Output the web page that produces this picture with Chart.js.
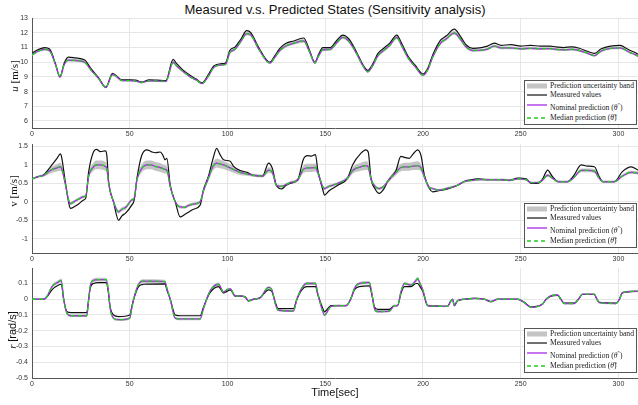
<!DOCTYPE html>
<html>
<head>
<meta charset="utf-8">
<script src="https://cdn.jsdelivr.net/npm/chart.js@4.4.0/dist/chart.umd.min.js"></script>
<style>
  body { margin: 0; background: #fff; }
  #wrap { position: relative; width: 638px; height: 405px; overflow: hidden; font-family: 'Liberation Sans', Arial, sans-serif; }
  canvas { position: absolute; left: 0; }
  .title { position: absolute; left: 335px; top: 3px; transform: translateX(-50%); font-size: 13px; line-height: 13px; color: #111; white-space: nowrap; }
  .xlabel { position: absolute; left: 335px; top: 387px; transform: translateX(-50%); font-size: 11px; line-height: 11px; color: #111; white-space: nowrap; }
  .ylabel { position: absolute; transform: translate(-50%, -50%) rotate(-90deg); font-size: 11px; white-space: nowrap; color: #111; font-family: 'Liberation Serif', 'Times New Roman', serif; }
  .legend { position: absolute; left: 524px; width: 113px; height: 45px; border: 1px solid #555; background: #fff; box-sizing: border-box; font-family: 'Liberation Serif', 'Times New Roman', serif; font-size: 7.6px; color: #222; }
  .legend .row { position: absolute; left: 1px; height: 8px; white-space: nowrap; }
  .legend svg { position: absolute; left: 0; top: 0; }
  .legend span { position: absolute; left: 24px; top: 0; line-height: 8px; }
</style>
</head>
<body>
<div id="wrap">
  <div class="title">Measured v.s. Predicted States (Sensitivity analysis)</div>
  <canvas id="cu" width="638" height="130" style="top:10px"></canvas>
  <canvas id="cv" width="638" height="129" style="top:136px"></canvas>
  <canvas id="cr" width="638" height="130" style="top:260px"></canvas>
  <div class="ylabel" style="left:14px; top:76px"><i>u</i> [m/s]</div>
  <div class="ylabel" style="left:13px; top:191px">v [m/s]</div>
  <div class="ylabel" style="left:12px; top:330px"><i>r</i> <span style="font-family:'Liberation Sans', Arial, sans-serif">[rad/s]</span></div>
  <div class="xlabel">Time[sec]</div>
</div>
<script>
// x ticks shared by all three panels
const xTicks = [0, 50, 100, 150, 200, 250, 300];

// surge speed u [m/s]
const uTime = [0, 3, 6.5, 9, 12, 14.3, 16.5, 18.6, 22, 27,
  30, 34, 37.8, 41.2, 43, 46, 50, 53, 56, 60,
  64, 68.5, 72.2, 74, 77, 81, 84, 87, 90, 93,
  97, 99, 101.2, 104, 107, 109.8, 112, 116, 121.7, 124,
  126.8, 130, 134, 137, 139, 142, 144.7, 146.5, 148.8, 152.5,
  156, 159, 162, 166, 169, 171.8, 174, 177, 180.4, 183,
  186.6, 189, 192.4, 196, 200, 202.5, 205, 209, 212, 216,
  219, 222, 225.5, 230, 233, 236.5, 240, 245, 250, 255,
  260, 265, 268, 272, 276, 280, 284, 287.7, 291, 296,
  301, 304, 306, 308, 310];
const uMeas = [10.62, 10.85, 11.0, 10.9, 9.9, 9.0, 9.95, 10.35, 10.3, 10.15,
  9.6, 8.95, 8.3, 9.25, 9.1, 8.8, 8.8, 8.78, 8.65, 8.8,
  8.78, 8.75, 10.2, 9.9, 9.5, 9.1, 8.85, 8.6, 9.1, 9.75,
  9.9, 9.95, 10.8, 11.05, 11.6, 12.15, 12.0, 11.0, 10.0, 10.4,
  10.95, 11.3, 11.45, 11.6, 11.65, 10.8, 10.0, 10.5, 11.0, 11.0,
  11.5, 11.85, 11.6, 10.7, 9.9, 9.45, 9.8, 10.6, 11.0, 11.3,
  11.85, 11.3, 10.4, 9.8, 9.2, 9.6, 10.5, 11.5, 11.8, 12.25,
  11.8, 11.2, 10.95, 11.0, 11.1, 11.3, 11.15, 11.2, 11.1, 11.15,
  11.1, 11.1, 11.05, 11.0, 11.05, 10.95, 10.75, 10.6, 10.9, 11.1,
  11.15, 10.95, 10.8, 10.7, 10.55];
const uNom = [10.5, 10.75, 10.88, 10.78, 9.85, 9.0, 9.85, 10.15, 10.12, 10.0,
  9.5, 8.9, 8.28, 9.15, 9.05, 8.75, 8.75, 8.72, 8.62, 8.73,
  8.72, 8.7, 10.0, 9.75, 9.4, 9.0, 8.8, 8.55, 9.0, 9.65,
  9.82, 9.85, 10.65, 10.9, 11.45, 11.95, 11.85, 10.9, 9.95, 10.3,
  10.8, 11.12, 11.3, 11.42, 11.45, 10.7, 9.95, 10.4, 10.85, 10.88,
  11.35, 11.7, 11.45, 10.6, 9.82, 9.35, 9.7, 10.45, 10.85, 11.15,
  11.68, 11.15, 10.3, 9.7, 9.12, 9.5, 10.35, 11.3, 11.6, 12.0,
  11.6, 11.05, 10.8, 10.82, 10.9, 11.1, 10.98, 10.98, 10.92, 10.95,
  10.92, 10.93, 10.88, 10.85, 10.88, 10.8, 10.62, 10.45, 10.75, 10.95,
  10.98, 10.8, 10.65, 10.55, 10.42];
// half width of the uncertainty band
const uBand = [0.08, 0.09, 0.1, 0.1, 0.08, 0.06, 0.08, 0.1, 0.1, 0.1,
  0.08, 0.06, 0.05, 0.07, 0.07, 0.06, 0.06, 0.06, 0.06, 0.06,
  0.06, 0.06, 0.1, 0.09, 0.08, 0.07, 0.06, 0.05, 0.07, 0.08,
  0.08, 0.08, 0.1, 0.1, 0.12, 0.13, 0.12, 0.1, 0.08, 0.09,
  0.1, 0.11, 0.11, 0.12, 0.12, 0.1, 0.08, 0.09, 0.1, 0.1,
  0.11, 0.12, 0.12, 0.1, 0.08, 0.07, 0.08, 0.1, 0.1, 0.11,
  0.12, 0.11, 0.09, 0.08, 0.07, 0.08, 0.09, 0.11, 0.12, 0.13,
  0.12, 0.1, 0.09, 0.09, 0.09, 0.1, 0.1, 0.1, 0.09, 0.09,
  0.09, 0.09, 0.09, 0.09, 0.09, 0.09, 0.08, 0.08, 0.09, 0.09,
  0.09, 0.09, 0.08, 0.08, 0.08];

// sway speed v [m/s]
const vTime = [0, 3, 6, 9.4, 12.8, 14.5, 15.2, 17, 18.7, 19.6,
  22, 24, 26.4, 27.5, 29, 31.5, 33, 35, 37.5, 38.3,
  39.2, 41.7, 44.3, 46, 48, 51, 52.3, 53.7, 56.2, 58.8,
  61, 63, 65.6, 67, 68, 69, 70.7, 73.3, 75.8, 78,
  80, 82.6, 86, 87.7, 90.3, 92.5, 94.5, 96, 98, 101.4,
  103, 106.5, 110, 113, 118, 121, 123, 125, 127.8, 130,
  132, 136, 138.8, 141, 143, 145, 146.2, 148.8, 149.6, 152,
  156.4, 161.5, 164, 168.3, 170.8, 172, 173.4, 175.5, 177.6, 180,
  181.9, 186.2, 188.7, 191, 193, 195, 197.3, 199, 200.7, 203.3,
  205, 208, 212.6, 217.7, 221.1, 225, 228, 234, 240, 244,
  248.5, 252.8, 255.3, 258.7, 261, 263.8, 266, 269, 274, 277,
  281, 284, 287.7, 290, 292, 298, 302, 306.5, 310];
const vMeas = [0.62, 0.68, 0.73, 0.95, 1.18, 1.3, 1.2, 0.55, 0.0, -0.18,
  -0.12, -0.05, 0.05, 0.1, 0.82, 1.36, 1.42, 1.36, 1.38, 1.25,
  0.55, 0.0, -0.5, -0.38, -0.3, -0.09, 0.05, 0.64, 1.27, 1.41,
  1.36, 1.33, 1.35, 1.26, 1.14, 1.18, 0.45, 0.0, -0.41, -0.35,
  -0.28, -0.2, -0.09, 0.32, 0.7, 1.15, 1.45, 1.3, 1.14, 1.1,
  0.97, 0.85, 0.8, 0.72, 0.7, 1.05, 0.9, 0.45, 0.35, 0.45,
  0.5, 0.6, 1.15, 1.25, 1.24, 1.28, 0.86, 0.32, 0.18, 0.3,
  0.45, 0.65, 1.0, 1.32, 1.41, 1.35, 0.64, 0.35, 0.23, 0.35,
  0.55, 0.85, 1.23, 1.2, 1.18, 1.3, 1.41, 1.25, 0.73, 0.36,
  0.27, 0.3, 0.35, 0.45, 0.55, 0.6, 0.62, 0.6, 0.6, 0.58,
  0.64, 0.62, 0.5, 0.5, 0.6, 0.86, 0.7, 0.55, 0.55, 0.7,
  1.0, 0.97, 0.95, 0.7, 0.55, 0.55, 0.82, 0.95, 0.86];
const vNom = [0.62, 0.68, 0.72, 0.85, 0.92, 0.95, 0.9, 0.5, 0.05, -0.05,
  0.02, 0.08, 0.14, 0.16, 0.7, 0.95, 1.0, 1.0, 0.96, 0.9,
  0.5, 0.0, -0.27, -0.2, -0.15, 0.05, 0.1, 0.6, 0.91, 1.0,
  1.0, 0.96, 0.93, 0.9, 0.88, 0.86, 0.42, 0.0, -0.14, -0.15,
  -0.1, -0.06, 0.0, 0.3, 0.65, 0.95, 1.05, 1.03, 1.0, 0.92,
  0.88, 0.8, 0.76, 0.72, 0.7, 0.86, 0.8, 0.45, 0.42, 0.47,
  0.52, 0.6, 0.88, 0.92, 0.92, 0.93, 0.8, 0.4, 0.36, 0.42,
  0.5, 0.65, 0.85, 0.95, 0.98, 0.95, 0.62, 0.42, 0.36, 0.42,
  0.55, 0.8, 0.93, 0.95, 0.95, 0.97, 0.98, 0.92, 0.68, 0.38,
  0.36, 0.32, 0.37, 0.45, 0.55, 0.58, 0.6, 0.6, 0.6, 0.58,
  0.62, 0.6, 0.52, 0.52, 0.58, 0.72, 0.65, 0.55, 0.55, 0.65,
  0.85, 0.85, 0.83, 0.65, 0.55, 0.55, 0.7, 0.8, 0.78];
const vBand = [0.02, 0.03, 0.04, 0.08, 0.1, 0.11, 0.1, 0.06, 0.04, 0.04,
  0.04, 0.04, 0.04, 0.04, 0.08, 0.11, 0.12, 0.12, 0.12, 0.1,
  0.06, 0.04, 0.05, 0.05, 0.05, 0.04, 0.04, 0.07, 0.11, 0.12,
  0.12, 0.12, 0.12, 0.11, 0.11, 0.1, 0.06, 0.04, 0.04, 0.04,
  0.04, 0.04, 0.04, 0.05, 0.08, 0.11, 0.12, 0.12, 0.11, 0.1,
  0.09, 0.07, 0.05, 0.04, 0.04, 0.08, 0.07, 0.04, 0.04, 0.04,
  0.04, 0.05, 0.1, 0.11, 0.11, 0.11, 0.09, 0.05, 0.04, 0.04,
  0.04, 0.06, 0.09, 0.11, 0.12, 0.11, 0.07, 0.05, 0.04, 0.04,
  0.05, 0.08, 0.1, 0.11, 0.11, 0.11, 0.12, 0.1, 0.07, 0.04,
  0.03, 0.03, 0.03, 0.03, 0.03, 0.03, 0.03, 0.03, 0.03, 0.03,
  0.03, 0.03, 0.03, 0.03, 0.03, 0.04, 0.03, 0.03, 0.03, 0.03,
  0.05, 0.05, 0.05, 0.03, 0.03, 0.03, 0.04, 0.04, 0.04];

// yaw rate r [rad/s]
const rTime = [0, 6, 8, 10.2, 13.6, 15, 16.2, 17.9, 20, 28,
  29, 29.8, 31.5, 34, 38, 39, 40, 41.7, 44.3, 50,
  51, 52, 54.5, 57, 68, 69, 70.7, 73.3, 76, 86,
  87.7, 91, 95.4, 98, 99.7, 101.4, 104, 106.5, 109, 110.7,
  113.3, 116.7, 121, 122.7, 124.5, 126, 133.7, 135.5, 138, 140.5,
  145, 146.2, 148.8, 149.6, 153, 156.4, 160.7, 163, 165, 167.5,
  172.6, 174, 175.2, 176.9, 182.8, 185.4, 187, 188.8, 190.5, 193.9,
  196.5, 197.3, 198.5, 199.9, 202.4, 212.6, 214.3, 215.2, 216, 217.7,
  221.2, 226.3, 231.4, 234.8, 238.2, 241.6, 248.4, 251.8, 255.2, 257.8,
  261.2, 263, 265.4, 268.9, 270.5, 272.3, 277.4, 279.5, 281.6, 287.6,
  289, 290.2, 298.7, 300.5, 302, 308, 310];
const rMeas = [0, 0, 0.02, 0.06, 0.09, 0.095, 0.0, -0.08, -0.085, -0.085,
  0.0, 0.07, 0.1, 0.105, 0.105, 0.05, -0.05, -0.1, -0.11, -0.1,
  -0.05, 0.0, 0.08, 0.095, 0.098, 0.06, 0.0, -0.1, -0.105, -0.105,
  -0.05, 0.04, 0.08, 0.04, 0.05, 0.06, 0.02, 0.02, 0.015, -0.01,
  0.0, 0.01, 0.06, 0.05, -0.02, -0.06, -0.06, 0.0, 0.06, 0.08,
  0.08, 0.03, -0.06, -0.08, -0.04, -0.04, -0.04, 0.0, 0.06, 0.08,
  0.085, 0.02, -0.05, -0.065, -0.065, -0.04, -0.04, 0.04, 0.08, 0.08,
  0.1, 0.1, 0.08, 0.05, -0.04, -0.045, -0.01, 0.0, -0.04, -0.01,
  0.0, 0.005, 0.0, -0.015, 0.0, 0.0, 0.0, -0.02, -0.05, -0.045,
  -0.03, 0.0, 0.02, 0.025, 0.0, -0.025, -0.025, 0.0, 0.03, 0.03,
  0.0, -0.02, -0.025, 0.0, 0.04, 0.05, 0.05];
const rNom = [0, 0, 0.025, 0.08, 0.11, 0.12, 0.0, -0.09, -0.105, -0.105,
  0.0, 0.085, 0.12, 0.125, 0.125, 0.06, -0.06, -0.12, -0.13, -0.12,
  -0.06, 0.0, 0.095, 0.115, 0.112, 0.07, 0.0, -0.12, -0.125, -0.125,
  -0.06, 0.05, 0.095, 0.045, 0.06, 0.065, 0.02, 0.02, 0.015, -0.01,
  0.0, 0.01, 0.075, 0.06, -0.03, -0.07, -0.075, 0.0, 0.07, 0.1,
  0.1, 0.035, -0.08, -0.1, -0.045, -0.04, -0.04, 0.0, 0.07, 0.1,
  0.105, 0.025, -0.06, -0.078, -0.075, -0.04, -0.04, 0.05, 0.1, 0.09,
  0.12, 0.13, 0.1, 0.06, -0.04, -0.045, -0.01, 0.0, -0.04, -0.01,
  0.0, 0.005, 0.0, -0.015, 0.0, 0.0, 0.0, -0.02, -0.05, -0.048,
  -0.03, 0.0, 0.022, 0.027, 0.0, -0.027, -0.027, 0.0, 0.032, 0.032,
  0.0, -0.022, -0.027, 0.0, 0.042, 0.05, 0.05];
const rBand = [0.003, 0.003, 0.006, 0.01, 0.012, 0.012, 0.008, 0.008, 0.008, 0.008,
  0.008, 0.01, 0.012, 0.012, 0.012, 0.01, 0.008, 0.008, 0.008, 0.008,
  0.008, 0.008, 0.01, 0.012, 0.012, 0.01, 0.008, 0.008, 0.008, 0.008,
  0.008, 0.008, 0.012, 0.008, 0.008, 0.008, 0.006, 0.006, 0.006, 0.006,
  0.006, 0.006, 0.008, 0.008, 0.006, 0.006, 0.006, 0.006, 0.008, 0.01,
  0.01, 0.008, 0.008, 0.008, 0.006, 0.006, 0.006, 0.006, 0.008, 0.01,
  0.01, 0.008, 0.008, 0.008, 0.008, 0.006, 0.006, 0.008, 0.01, 0.01,
  0.012, 0.012, 0.01, 0.008, 0.006, 0.005, 0.005, 0.005, 0.005, 0.005,
  0.005, 0.005, 0.005, 0.005, 0.005, 0.005, 0.005, 0.005, 0.005, 0.005,
  0.005, 0.005, 0.005, 0.005, 0.005, 0.005, 0.005, 0.005, 0.005, 0.005,
  0.005, 0.005, 0.005, 0.005, 0.005, 0.005, 0.005];

const uTicks = [6, 7, 8, 9, 10, 11, 12, 13];
const vTicks = [-1, -0.5, 0, 0.5, 1, 1.5];
const rTicks = [-0.5, -0.4, -0.3, -0.2, -0.1, 0, 0.1];

const measColor = '#111111';
const nomColor = '#a62be3';
const medColor = '#22cc22';
const bandColor = 'rgba(185,185,185,0.85)';
const tickFont = { family: "'Liberation Sans', Arial, sans-serif", size: 7 };

function pts(t, y) {
  return t.map((x, i) => ({ x: x, y: y[i] }));
}

function makePanel(id, time, meas, nom, band, yMin, yMax, yTicks) {
  var lo = time.map((x, i) => ({ x: x, y: nom[i] - band[i] }));
  var hi = time.map((x, i) => ({ x: x, y: nom[i] + band[i] }));
  new Chart(document.getElementById(id), {
    type: 'line',
    data: {
      datasets: [
        { label: 'Median prediction', data: pts(time, nom), borderColor: medColor, borderWidth: 1.3, borderDash: [4, 3] },
        { label: 'Nominal prediction', data: pts(time, nom), borderColor: nomColor, borderWidth: 1.3 },
        { label: 'Measured values', data: pts(time, meas), borderColor: measColor, borderWidth: 1.2 },
        { label: 'band lo', data: lo, borderWidth: 0, borderColor: 'rgba(0,0,0,0)' },
        { label: 'Prediction uncertainty band', data: hi, borderWidth: 0, borderColor: 'rgba(0,0,0,0)', backgroundColor: bandColor, fill: 3 }
      ]
    },
    options: {
      responsive: false,
      animation: false,
      layout: { padding: { top: 8, right: 0, left: 0, bottom: 0 } },
      plugins: { legend: { display: false }, tooltip: { enabled: false } },
      elements: { point: { radius: 0 }, line: { cubicInterpolationMode: 'monotone' } },
      scales: {
        x: {
          type: 'linear', min: 0, max: 310,
          afterBuildTicks: s => { s.ticks = xTicks.map(v => ({ value: v })); },
          afterFit: s => { s.height = 12; },
          ticks: { font: tickFont, color: '#333', padding: 2, maxRotation: 0, autoSkip: false },
          grid: { color: '#e6e6e6', drawTicks: false },
          border: { color: '#555' }
        },
        y: {
          type: 'linear', min: yMin, max: yMax,
          afterBuildTicks: s => { s.ticks = yTicks.map(v => ({ value: v })); },
          afterFit: s => { s.width = 32; },
          ticks: { font: tickFont, color: '#333', padding: 4, callback: v => String(Number(v.toFixed(2))) },
          grid: { color: '#e6e6e6', drawTicks: false },
          border: { color: '#555' }
        }
      }
    }
  });
}

makePanel('cu', uTime, uMeas, uNom, uBand, 5.52, 13, uTicks);
makePanel('cv', vTime, vMeas, vNom, vBand, -1.387, 1.562, vTicks);
makePanel('cr', rTime, rMeas, rNom, rBand, -0.5, 0.197, rTicks);

// legend boxes, one per panel
function addLegend(top) {
  var box = document.createElement('div');
  box.className = 'legend';
  box.style.top = top + 'px';
  var rows = [
    { y: 1, svg: '<rect x="1" y="1.5" width="20" height="5" fill="#c4c4c4"/>', text: 'Prediction uncertainty band' },
    { y: 10, svg: '<line x1="1" y1="4" x2="21" y2="4" stroke="' + measColor + '" stroke-width="1.2"/>', text: 'Measured values' },
    { y: 19.5, svg: '<line x1="1" y1="4" x2="21" y2="4" stroke="' + nomColor + '" stroke-width="1.3"/>', text: 'Nominal prediction (<i>θ</i><sup style="font-size:5px">*</sup>)' },
    { y: 32.5, svg: '<line x1="1" y1="4" x2="21" y2="4" stroke="' + medColor + '" stroke-width="1.3" stroke-dasharray="4 3"/>', text: 'Median prediction (<i>θ̃</i>)' }
  ];
  rows.forEach(r => {
    var row = document.createElement('div');
    row.className = 'row';
    row.style.top = r.y + 'px';
    row.innerHTML = '<svg width="22" height="8">' + r.svg + '</svg><span>' + r.text + '</span>';
    box.appendChild(row);
  });
  document.getElementById('wrap').appendChild(box);
}
addLegend(80);
addLegend(203);
addLegend(328);
</script>
</body>
</html>
